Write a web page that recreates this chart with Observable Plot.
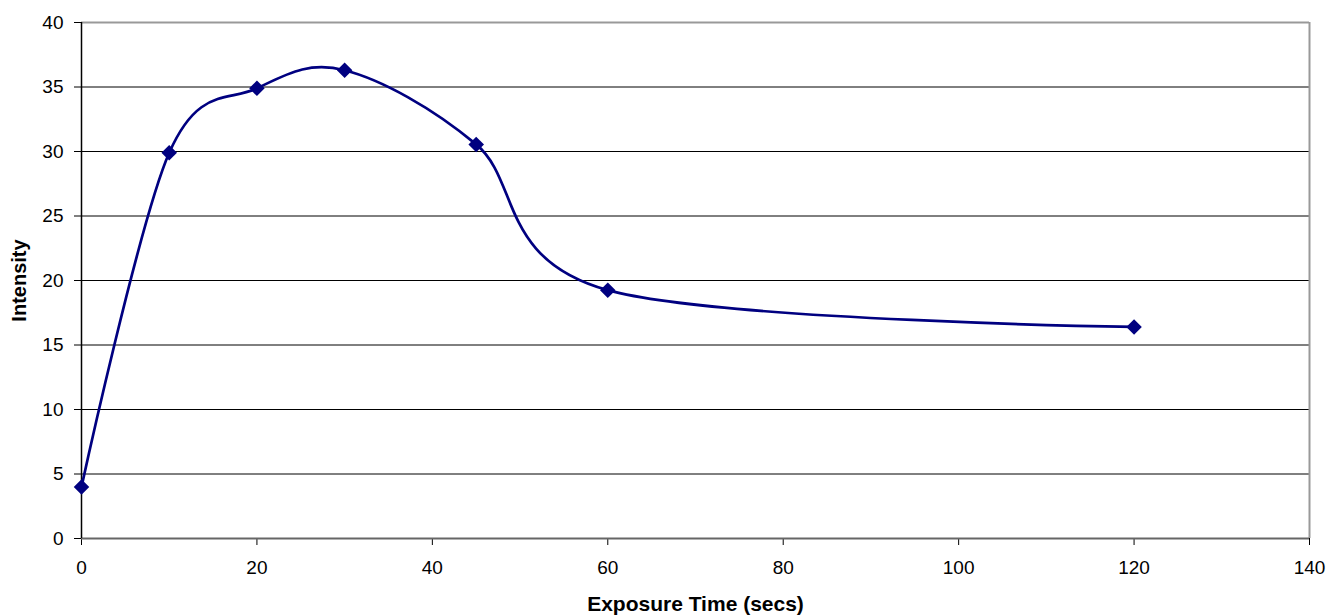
<!DOCTYPE html>
<html>
<head>
<meta charset="utf-8">
<script src="https://cdn.jsdelivr.net/npm/d3@7"></script>
<script src="https://cdn.jsdelivr.net/npm/@observablehq/plot@0.6"></script>
<style>
  html, body { margin: 0; padding: 0; background: #fff; }
</style>
</head>
<body>
<div id="chart"></div>
<script>
const exposureTime = [0, 10, 20, 30, 45, 60, 120];
const intensity = [4.0, 29.9, 34.9, 36.3, 30.55, 19.25, 16.4];
const xTicks = [0, 20, 40, 60, 80, 100, 120, 140];
const yTicks = [0, 5, 10, 15, 20, 25, 30, 35, 40];
const gridValues = [5, 10, 15, 20, 25, 30, 35];
const xTitle = "Exposure Time (secs)";
const yTitle = "Intensity";

const data = exposureTime.map((t, i) => ({t, v: intensity[i]}));

const chart = Plot.plot({
  width: 1339,
  height: 615,
  marginLeft: 81,
  marginRight: 30,
  marginTop: 22,
  marginBottom: 77,
  style: {fontFamily: "'Liberation Sans', Arial, sans-serif", fontSize: "19px", background: "#fff", color: "#000"},
  x: {domain: [0, 140], ticks: xTicks, tickSize: 7, tickPadding: 15, label: null, tickFormat: d => String(d)},
  y: {domain: [0, 40], ticks: yTicks, tickSize: 7, tickPadding: 11, label: null, tickFormat: d => String(d)},
  marks: [
    Plot.ruleY(gridValues, {stroke: "#000", strokeWidth: 1}),
    Plot.ruleY([40], {stroke: "#999", strokeWidth: 2}),
    Plot.ruleX([140], {stroke: "#999", strokeWidth: 2}),
    Plot.ruleY([0], {stroke: "#666", strokeWidth: 2}),
    Plot.ruleX([0], {stroke: "#000", strokeWidth: 1.5}),
    Plot.line(data, {x: "t", y: "v", curve: "cardinal", stroke: "#000080", strokeWidth: 2.7}),
    Plot.dot(data, {x: "t", y: "v", symbol: "diamond2", r: 7, fill: "#000080", stroke: "none"}),
    Plot.text([xTitle], {frameAnchor: "bottom", text: d => d, dy: 66, lineAnchor: "middle", fontWeight: "bold", fontSize: 21}),
    Plot.text([yTitle], {frameAnchor: "left", text: d => d, dx: -62, rotate: -90, lineAnchor: "middle", textAnchor: "middle", fontWeight: "bold", fontSize: 20})
  ]
});
document.getElementById("chart").appendChild(chart);
</script>
</body>
</html>
